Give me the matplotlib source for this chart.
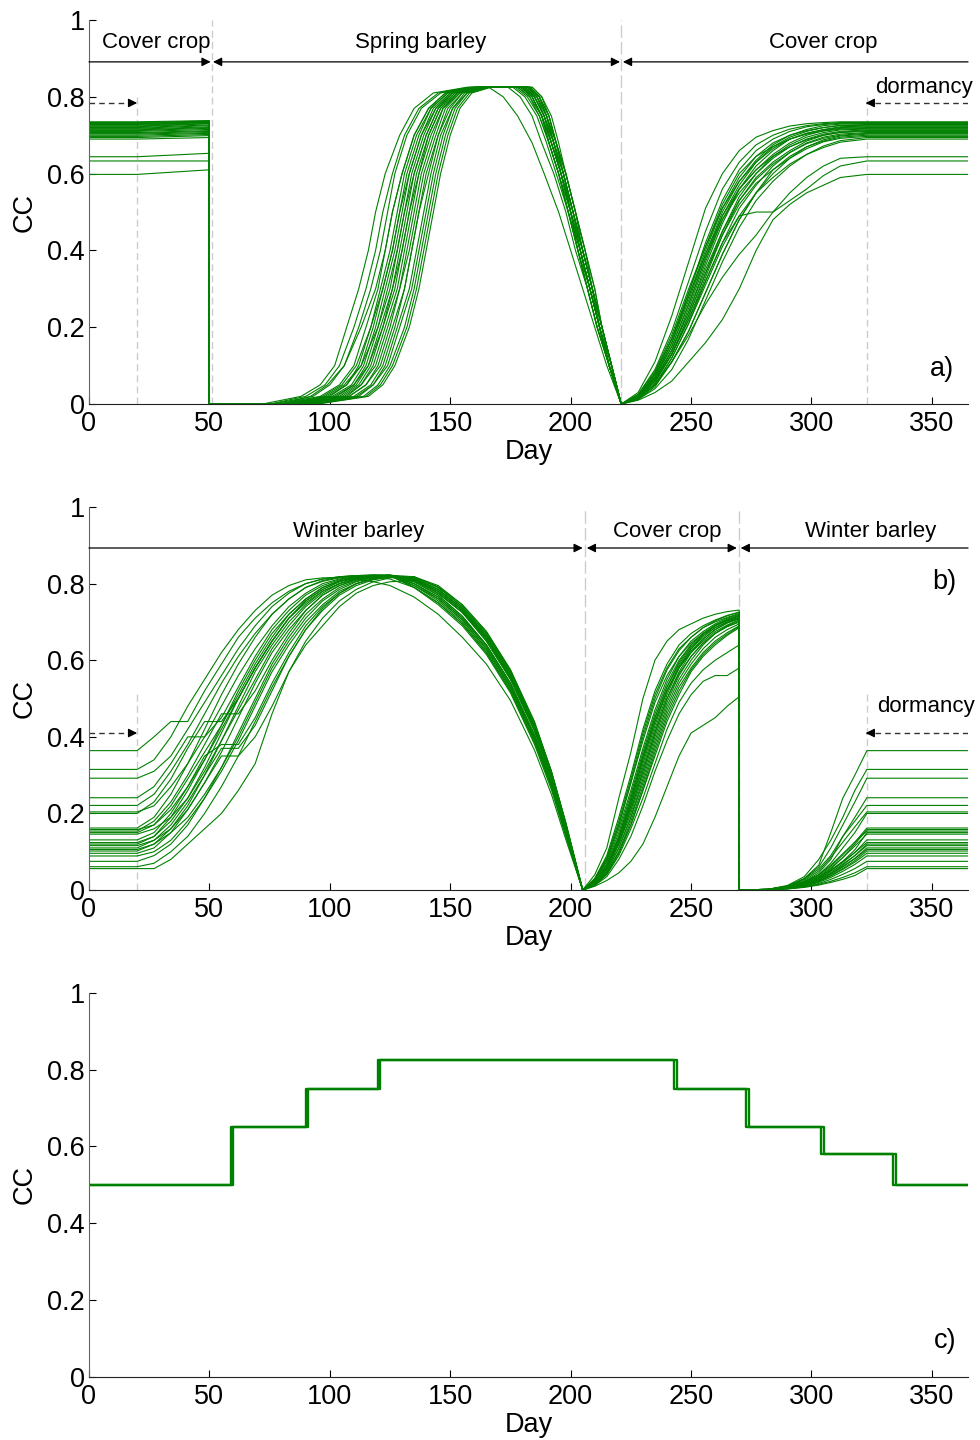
"""
Canopy cover (CC) over the year for three crop rotations:
  a) cover crop -> spring barley -> cover crop
  b) winter barley -> cover crop -> winter barley
  c) fixed monthly CC schedule
Each green line is one simulated year.
"""

import matplotlib
matplotlib.use("Agg")
import matplotlib.pyplot as plt

plt.rcParams["font.family"] = ["Liberation Sans", "DejaVu Sans"]

GREEN = "#008000"
GUIDE = "#cccccc"
FS = 19.5
FS_NOTE = 16

# ---------------------------------------------------------------------------
# a) cover crop / spring barley
# ---------------------------------------------------------------------------
A_SOW_DAY = 50
A_HARVEST_DAY = 221
A_DORMANCY_DAY = 323

# CC during winter dormancy (day 0-20 and day 323-365)
A_LEVEL = [0.735, 0.733, 0.731, 0.730, 0.728, 0.726, 0.724, 0.722, 0.720, 0.718,
           0.716, 0.714, 0.712, 0.710, 0.707, 0.705, 0.703, 0.700, 0.697, 0.694,
           0.690, 0.644, 0.633, 0.598]
# CC of the cover crop just before it is ploughed in (day 50)
A_SOW = [0.738, 0.737, 0.736, 0.735, 0.734, 0.733, 0.731, 0.730, 0.727, 0.725,
         0.722, 0.720, 0.718, 0.715, 0.712, 0.710, 0.707, 0.705, 0.702, 0.699,
         0.694, 0.653, 0.633, 0.610]

# spring barley: day on which each CC value is reached
A_GROW_CC = [0.0, 0.02, 0.05, 0.1, 0.2, 0.3, 0.4, 0.5, 0.6, 0.7, 0.77, 0.81, 0.825]
A_GROW_DAYS = [
    [72, 88, 96, 102, 107, 112, 116, 119, 123, 129, 135, 143, 157],
    [75, 90, 98, 104, 110, 115, 119, 122, 126, 131, 137, 145, 158],
    [76, 93, 100, 106, 112, 117, 121, 124, 127, 132, 138, 146, 159],
    [80, 92, 99, 106, 113, 119, 123, 126, 130, 135, 141, 148, 160],
    [78, 96, 104, 110, 115, 120, 123, 126, 130, 135, 141, 148, 160],
    [82, 97, 105, 111, 117, 121, 125, 128, 131, 136, 142, 149, 160],
    [79, 99, 107, 113, 118, 122, 126, 129, 132, 137, 142, 149, 161],
    [84, 100, 107, 112, 117, 122, 126, 129, 133, 138, 143, 150, 161],
    [81, 101, 109, 114, 119, 123, 127, 130, 133, 138, 144, 150, 161],
    [85, 98, 106, 113, 120, 125, 128, 131, 134, 139, 144, 151, 162],
    [83, 103, 110, 115, 120, 124, 128, 131, 135, 140, 145, 151, 162],
    [86, 104, 111, 116, 121, 126, 129, 132, 135, 140, 145, 152, 162],
    [84, 102, 110, 116, 122, 127, 130, 133, 136, 141, 146, 152, 162],
    [88, 105, 112, 117, 122, 126, 130, 133, 137, 141, 146, 153, 163],
    [86, 107, 113, 118, 123, 128, 131, 134, 137, 142, 147, 153, 163],
    [89, 106, 113, 119, 124, 129, 132, 135, 138, 143, 147, 154, 163],
    [87, 108, 115, 120, 125, 129, 133, 136, 139, 144, 148, 154, 164],
    [90, 108, 115, 121, 126, 131, 134, 137, 140, 145, 149, 155, 164],
    [88, 110, 117, 122, 127, 131, 134, 137, 141, 145, 150, 155, 164],
    [91, 111, 118, 123, 128, 133, 136, 139, 142, 146, 151, 156, 165],
    [92, 112, 118, 124, 129, 134, 137, 140, 143, 147, 151, 157, 165],
    [90, 114, 120, 125, 131, 135, 138, 141, 144, 148, 152, 157, 166],
    [94, 115, 121, 126, 132, 136, 139, 142, 145, 149, 153, 158, 166],
    [95, 116, 122, 127, 133, 137, 140, 143, 146, 150, 154, 159, 167],
]

# spring barley senescence: day on which each CC value is reached
A_DECL_CC = [0.825, 0.8, 0.75, 0.68, 0.6, 0.5, 0.4, 0.3, 0.2, 0.1, 0.0]
A_DECL_DAYS = [
    [166, 172, 178, 184, 189, 195, 200, 205, 210, 215, 221],
    [174, 179, 184, 188, 193, 198, 202, 207, 211, 216, 221],
    [176, 181, 186, 190, 194, 199, 203, 207, 211, 216, 221],
    [178, 183, 187, 191, 195, 199, 203, 208, 212, 216, 221],
    [179, 184, 188, 191, 195, 200, 204, 208, 212, 216, 221],
    [180, 185, 189, 192, 196, 200, 204, 208, 212, 216, 221],
    [180, 184, 188, 192, 196, 200, 204, 208, 212, 217, 221],
    [181, 185, 189, 193, 196, 200, 204, 208, 212, 216, 221],
    [181, 186, 190, 193, 197, 201, 205, 209, 212, 217, 221],
    [182, 186, 190, 193, 197, 201, 205, 209, 213, 217, 221],
    [182, 186, 189, 193, 196, 200, 204, 208, 212, 216, 221],
    [183, 187, 190, 194, 197, 201, 205, 209, 213, 217, 221],
    [183, 187, 191, 194, 198, 202, 205, 209, 213, 217, 221],
    [184, 188, 192, 195, 198, 202, 206, 210, 213, 217, 221],
    [178, 183, 188, 192, 196, 200, 205, 209, 212, 216, 221],
    [177, 182, 187, 191, 195, 199, 204, 208, 212, 216, 221],
    [180, 185, 189, 193, 197, 201, 205, 209, 213, 217, 221],
    [179, 184, 188, 192, 196, 201, 205, 209, 213, 217, 221],
    [181, 185, 189, 192, 196, 200, 203, 207, 211, 216, 221],
    [182, 187, 191, 194, 197, 201, 204, 208, 212, 216, 221],
    [183, 187, 190, 193, 197, 200, 204, 208, 212, 216, 221],
    [180, 184, 188, 191, 195, 199, 203, 207, 211, 216, 221],
    [184, 188, 191, 194, 198, 202, 206, 209, 213, 217, 221],
    [182, 186, 190, 194, 198, 202, 206, 210, 213, 217, 221],
]

# cover crop sown after harvest (CC = 0 on the harvest day)
A_COVER_DAYS = [228, 235, 242, 249, 256, 263, 270, 277, 284, 291, 298, 305, 312]
A_COVER_CC = [
    [0.030, 0.11, 0.23, 0.37, 0.51, 0.60, 0.66, 0.695, 0.712, 0.724, 0.730, 0.733, 0.735],
    [0.025, 0.09, 0.19, 0.32, 0.45, 0.56, 0.63, 0.675, 0.700, 0.716, 0.725, 0.730, 0.733],
    [0.020, 0.08, 0.17, 0.29, 0.42, 0.53, 0.61, 0.660, 0.690, 0.710, 0.722, 0.728, 0.731],
    [0.025, 0.085, 0.18, 0.30, 0.41, 0.51, 0.59, 0.645, 0.680, 0.700, 0.715, 0.725, 0.729],
    [0.020, 0.07, 0.15, 0.26, 0.38, 0.49, 0.57, 0.630, 0.670, 0.695, 0.710, 0.720, 0.726],
    [0.020, 0.075, 0.16, 0.27, 0.39, 0.50, 0.58, 0.635, 0.675, 0.700, 0.712, 0.720, 0.725],
    [0.015, 0.06, 0.14, 0.24, 0.36, 0.47, 0.56, 0.620, 0.660, 0.690, 0.705, 0.715, 0.722],
    [0.020, 0.07, 0.16, 0.28, 0.40, 0.51, 0.58, 0.630, 0.665, 0.690, 0.705, 0.714, 0.720],
    [0.018, 0.065, 0.14, 0.25, 0.37, 0.48, 0.56, 0.610, 0.650, 0.680, 0.700, 0.712, 0.718],
    [0.020, 0.08, 0.17, 0.29, 0.41, 0.52, 0.60, 0.645, 0.670, 0.690, 0.703, 0.711, 0.716],
    [0.015, 0.055, 0.13, 0.23, 0.34, 0.45, 0.54, 0.600, 0.645, 0.675, 0.695, 0.707, 0.714],
    [0.020, 0.07, 0.15, 0.26, 0.38, 0.48, 0.55, 0.600, 0.640, 0.670, 0.690, 0.703, 0.710],
    [0.018, 0.06, 0.13, 0.22, 0.33, 0.44, 0.53, 0.590, 0.630, 0.660, 0.685, 0.700, 0.708],
    [0.022, 0.08, 0.17, 0.28, 0.39, 0.49, 0.56, 0.610, 0.645, 0.670, 0.688, 0.700, 0.707],
    [0.015, 0.05, 0.12, 0.21, 0.32, 0.42, 0.51, 0.570, 0.620, 0.655, 0.680, 0.695, 0.703],
    [0.020, 0.065, 0.14, 0.24, 0.35, 0.45, 0.53, 0.585, 0.625, 0.655, 0.678, 0.692, 0.700],
    [0.012, 0.045, 0.11, 0.19, 0.29, 0.39, 0.48, 0.550, 0.600, 0.640, 0.670, 0.688, 0.698],
    [0.015, 0.05, 0.11, 0.19, 0.29, 0.39, 0.48, 0.550, 0.610, 0.645, 0.670, 0.685, 0.695],
    [0.018, 0.06, 0.13, 0.23, 0.34, 0.44, 0.52, 0.575, 0.610, 0.640, 0.665, 0.683, 0.692],
    [0.012, 0.04, 0.09, 0.17, 0.27, 0.37, 0.46, 0.530, 0.580, 0.620, 0.650, 0.672, 0.686],
    [0.015, 0.05, 0.12, 0.21, 0.31, 0.41, 0.49, 0.550, 0.590, 0.625, 0.650, 0.668, 0.682],
    [0.015, 0.05, 0.11, 0.18, 0.26, 0.33, 0.39, 0.440, 0.500, 0.550, 0.590, 0.620, 0.640],
    [0.020, 0.06, 0.13, 0.22, 0.32, 0.42, 0.49, 0.500, 0.500, 0.530, 0.560, 0.595, 0.620],
    [0.010, 0.03, 0.06, 0.11, 0.16, 0.22, 0.30, 0.400, 0.480, 0.520, 0.550, 0.570, 0.590],
]

# ---------------------------------------------------------------------------
# b) winter barley / cover crop
# ---------------------------------------------------------------------------
B_HARVEST_DAY = 205
B_SOW_DAY = 270
B_DORMANCY_DAY = 323

B_LEVEL = [0.364, 0.315, 0.292, 0.241, 0.221, 0.204, 0.200, 0.162, 0.158, 0.154,
           0.150, 0.146, 0.131, 0.124, 0.120, 0.116, 0.110, 0.106, 0.102, 0.096,
           0.089, 0.075, 0.061, 0.056]

# spring regrowth of winter barley after dormancy ends (day 20)
B_GROW_DAYS = [27, 34, 41, 48, 55, 62, 69, 76, 83, 90, 97, 104, 111, 118, 125]
B_GROW_CC = [
    [0.40, 0.44, 0.44, 0.52, 0.59, 0.66, 0.71, 0.75, 0.78, 0.80, 0.812, 0.818, 0.821, 0.822, 0.822],
    [0.34, 0.40, 0.48, 0.55, 0.62, 0.68, 0.73, 0.77, 0.795, 0.81, 0.815, 0.816, 0.812, 0.805, 0.795],
    [0.31, 0.35, 0.42, 0.49, 0.56, 0.63, 0.69, 0.74, 0.775, 0.80, 0.812, 0.818, 0.821, 0.822, 0.821],
    [0.27, 0.33, 0.40, 0.40, 0.45, 0.53, 0.61, 0.68, 0.73, 0.77, 0.795, 0.810, 0.818, 0.821, 0.822],
    [0.25, 0.31, 0.38, 0.46, 0.54, 0.61, 0.67, 0.72, 0.76, 0.79, 0.806, 0.815, 0.820, 0.822, 0.821],
    [0.22, 0.27, 0.33, 0.40, 0.48, 0.56, 0.63, 0.69, 0.74, 0.775, 0.80, 0.812, 0.819, 0.822, 0.822],
    [0.23, 0.29, 0.37, 0.44, 0.44, 0.50, 0.58, 0.65, 0.71, 0.755, 0.785, 0.805, 0.815, 0.820, 0.822],
    [0.19, 0.25, 0.33, 0.42, 0.51, 0.59, 0.66, 0.72, 0.76, 0.79, 0.808, 0.817, 0.821, 0.822, 0.820],
    [0.17, 0.21, 0.27, 0.34, 0.42, 0.50, 0.58, 0.65, 0.71, 0.75, 0.78, 0.800, 0.812, 0.818, 0.821],
    [0.18, 0.23, 0.30, 0.38, 0.46, 0.46, 0.52, 0.60, 0.67, 0.73, 0.77, 0.795, 0.810, 0.818, 0.820],
    [0.17, 0.22, 0.29, 0.36, 0.43, 0.51, 0.59, 0.66, 0.72, 0.76, 0.79, 0.807, 0.816, 0.820, 0.822],
    [0.16, 0.19, 0.24, 0.31, 0.39, 0.47, 0.55, 0.63, 0.69, 0.74, 0.775, 0.800, 0.812, 0.819, 0.822],
    [0.15, 0.20, 0.27, 0.35, 0.38, 0.38, 0.45, 0.54, 0.62, 0.69, 0.74, 0.775, 0.800, 0.812, 0.818],
    [0.14, 0.18, 0.24, 0.32, 0.41, 0.50, 0.58, 0.65, 0.71, 0.755, 0.785, 0.805, 0.815, 0.818, 0.812],
    [0.14, 0.19, 0.26, 0.34, 0.43, 0.52, 0.60, 0.67, 0.72, 0.76, 0.79, 0.807, 0.816, 0.820, 0.821],
    [0.13, 0.16, 0.21, 0.28, 0.36, 0.45, 0.54, 0.62, 0.68, 0.73, 0.77, 0.795, 0.810, 0.818, 0.821],
    [0.13, 0.17, 0.23, 0.30, 0.37, 0.37, 0.43, 0.52, 0.61, 0.68, 0.735, 0.775, 0.800, 0.812, 0.818],
    [0.12, 0.16, 0.22, 0.30, 0.39, 0.48, 0.57, 0.64, 0.70, 0.745, 0.78, 0.800, 0.813, 0.819, 0.821],
    [0.12, 0.15, 0.19, 0.25, 0.32, 0.40, 0.49, 0.58, 0.65, 0.71, 0.755, 0.785, 0.805, 0.815, 0.820],
    [0.11, 0.15, 0.21, 0.28, 0.35, 0.35, 0.40, 0.48, 0.57, 0.65, 0.71, 0.755, 0.785, 0.805, 0.815],
    [0.10, 0.13, 0.18, 0.24, 0.31, 0.39, 0.48, 0.57, 0.64, 0.70, 0.745, 0.780, 0.800, 0.813, 0.819],
    [0.09, 0.12, 0.17, 0.24, 0.32, 0.41, 0.50, 0.59, 0.66, 0.72, 0.76, 0.790, 0.807, 0.816, 0.820],
    [0.07, 0.10, 0.14, 0.20, 0.27, 0.35, 0.44, 0.53, 0.61, 0.68, 0.73, 0.770, 0.795, 0.810, 0.817],
    [0.056, 0.08, 0.12, 0.16, 0.20, 0.26, 0.33, 0.46, 0.57, 0.64, 0.69, 0.740, 0.775, 0.795, 0.805],
]

# senescence towards harvest (CC = 0 on the harvest day)
B_DECL_DAYS = [135, 145, 155, 165, 175, 185, 192, 198]
B_DECL_CC = [
    [0.812, 0.780, 0.730, 0.660, 0.560, 0.425, 0.300, 0.165],
    [0.765, 0.720, 0.660, 0.590, 0.495, 0.365, 0.250, 0.132],
    [0.815, 0.785, 0.735, 0.665, 0.565, 0.430, 0.305, 0.170],
    [0.800, 0.760, 0.705, 0.630, 0.530, 0.395, 0.275, 0.150],
    [0.790, 0.750, 0.695, 0.620, 0.520, 0.385, 0.270, 0.145],
    [0.818, 0.795, 0.745, 0.675, 0.575, 0.435, 0.310, 0.175],
    [0.810, 0.775, 0.725, 0.655, 0.555, 0.420, 0.295, 0.165],
    [0.795, 0.755, 0.700, 0.625, 0.525, 0.390, 0.270, 0.145],
    [0.808, 0.775, 0.725, 0.650, 0.550, 0.415, 0.290, 0.160],
    [0.805, 0.770, 0.715, 0.640, 0.540, 0.400, 0.280, 0.150],
    [0.812, 0.780, 0.730, 0.660, 0.560, 0.420, 0.300, 0.165],
    [0.800, 0.765, 0.710, 0.635, 0.535, 0.400, 0.280, 0.155],
    [0.816, 0.790, 0.740, 0.670, 0.570, 0.430, 0.305, 0.170],
    [0.790, 0.745, 0.690, 0.615, 0.515, 0.380, 0.262, 0.140],
    [0.805, 0.770, 0.715, 0.640, 0.540, 0.405, 0.285, 0.155],
    [0.810, 0.780, 0.730, 0.655, 0.555, 0.420, 0.295, 0.160],
    [0.817, 0.792, 0.745, 0.675, 0.575, 0.440, 0.310, 0.175],
    [0.790, 0.750, 0.695, 0.620, 0.520, 0.390, 0.270, 0.145],
    [0.812, 0.785, 0.735, 0.665, 0.565, 0.430, 0.300, 0.170],
    [0.818, 0.790, 0.740, 0.670, 0.570, 0.435, 0.310, 0.175],
    [0.800, 0.765, 0.710, 0.640, 0.540, 0.405, 0.285, 0.155],
    [0.795, 0.760, 0.705, 0.630, 0.530, 0.400, 0.280, 0.150],
    [0.812, 0.785, 0.735, 0.660, 0.560, 0.425, 0.300, 0.165],
    [0.808, 0.775, 0.725, 0.650, 0.550, 0.415, 0.295, 0.160],
]

# cover crop between barley harvest and winter barley sowing
B_COVER_DAYS = [210, 215, 220, 225, 230, 235, 240, 245, 250, 255, 260, 265, 270]
B_COVER_CC = [
    [0.040, 0.110, 0.240, 0.360, 0.500, 0.600, 0.650, 0.680, 0.695, 0.710, 0.720, 0.727, 0.731],
    [0.030, 0.090, 0.190, 0.300, 0.420, 0.520, 0.590, 0.640, 0.670, 0.690, 0.705, 0.717, 0.725],
    [0.025, 0.075, 0.160, 0.260, 0.370, 0.470, 0.550, 0.610, 0.650, 0.675, 0.695, 0.710, 0.720],
    [0.020, 0.060, 0.130, 0.220, 0.320, 0.420, 0.510, 0.580, 0.630, 0.665, 0.690, 0.705, 0.715],
    [0.020, 0.065, 0.140, 0.240, 0.350, 0.450, 0.530, 0.590, 0.635, 0.665, 0.685, 0.700, 0.710],
    [0.015, 0.050, 0.110, 0.190, 0.290, 0.390, 0.480, 0.550, 0.600, 0.640, 0.670, 0.690, 0.705],
    [0.025, 0.080, 0.170, 0.280, 0.390, 0.490, 0.560, 0.610, 0.645, 0.670, 0.690, 0.703, 0.712],
    [0.020, 0.055, 0.120, 0.200, 0.300, 0.400, 0.490, 0.560, 0.610, 0.645, 0.670, 0.688, 0.700],
    [0.030, 0.085, 0.180, 0.290, 0.410, 0.510, 0.580, 0.630, 0.660, 0.685, 0.700, 0.712, 0.722],
    [0.015, 0.045, 0.100, 0.170, 0.260, 0.350, 0.440, 0.510, 0.570, 0.610, 0.640, 0.665, 0.685],
    [0.020, 0.060, 0.130, 0.220, 0.330, 0.430, 0.520, 0.585, 0.630, 0.660, 0.685, 0.700, 0.712],
    [0.012, 0.040, 0.090, 0.160, 0.240, 0.330, 0.420, 0.490, 0.540, 0.575, 0.600, 0.620, 0.640],
    [0.025, 0.070, 0.150, 0.250, 0.360, 0.460, 0.540, 0.600, 0.640, 0.670, 0.690, 0.705, 0.716],
    [0.018, 0.055, 0.120, 0.210, 0.310, 0.410, 0.500, 0.570, 0.620, 0.655, 0.680, 0.697, 0.708],
    [0.010, 0.025, 0.045, 0.075, 0.120, 0.190, 0.270, 0.350, 0.410, 0.430, 0.450, 0.480, 0.505],
    [0.020, 0.060, 0.130, 0.230, 0.340, 0.440, 0.520, 0.580, 0.620, 0.650, 0.675, 0.692, 0.705],
    [0.015, 0.045, 0.100, 0.180, 0.270, 0.370, 0.460, 0.530, 0.580, 0.620, 0.650, 0.672, 0.690],
    [0.022, 0.065, 0.140, 0.240, 0.350, 0.450, 0.530, 0.595, 0.640, 0.670, 0.692, 0.707, 0.718],
    [0.012, 0.035, 0.080, 0.140, 0.220, 0.310, 0.390, 0.460, 0.510, 0.545, 0.560, 0.560, 0.580],
    [0.020, 0.060, 0.135, 0.230, 0.340, 0.440, 0.520, 0.580, 0.625, 0.655, 0.680, 0.698, 0.710],
    [0.028, 0.080, 0.170, 0.280, 0.400, 0.500, 0.575, 0.625, 0.660, 0.685, 0.703, 0.716, 0.726],
    [0.016, 0.050, 0.110, 0.190, 0.280, 0.380, 0.470, 0.540, 0.590, 0.630, 0.660, 0.680, 0.695],
    [0.020, 0.058, 0.125, 0.210, 0.310, 0.410, 0.500, 0.565, 0.610, 0.645, 0.670, 0.688, 0.700],
    [0.014, 0.042, 0.095, 0.170, 0.260, 0.360, 0.450, 0.520, 0.575, 0.615, 0.645, 0.668, 0.688],
]

# autumn emergence of the next winter barley (levels off at B_LEVEL on day 323)
B_AUT_DAYS = [282, 290, 297, 303, 308, 313, 318]
B_AUT_CC = [
    [0.002, 0.010, 0.030, 0.065, 0.150, 0.240, 0.300],
    [0.002, 0.012, 0.035, 0.080, 0.130, 0.190, 0.260],
    [0.002, 0.010, 0.030, 0.060, 0.110, 0.170, 0.230],
    [0.002, 0.010, 0.028, 0.055, 0.090, 0.140, 0.190],
    [0.001, 0.008, 0.022, 0.045, 0.080, 0.140, 0.180],
    [0.002, 0.009, 0.025, 0.050, 0.085, 0.125, 0.165],
    [0.001, 0.007, 0.020, 0.040, 0.070, 0.110, 0.150],
    [0.002, 0.008, 0.020, 0.038, 0.062, 0.092, 0.125],
    [0.001, 0.006, 0.016, 0.032, 0.055, 0.085, 0.120],
    [0.002, 0.009, 0.022, 0.040, 0.065, 0.095, 0.125],
    [0.001, 0.006, 0.015, 0.030, 0.050, 0.075, 0.105],
    [0.001, 0.007, 0.018, 0.035, 0.058, 0.085, 0.115],
    [0.001, 0.006, 0.015, 0.030, 0.050, 0.072, 0.098],
    [0.002, 0.008, 0.018, 0.034, 0.052, 0.075, 0.098],
    [0.001, 0.005, 0.013, 0.026, 0.043, 0.065, 0.090],
    [0.001, 0.006, 0.015, 0.028, 0.046, 0.068, 0.090],
    [0.001, 0.005, 0.012, 0.024, 0.040, 0.060, 0.083],
    [0.001, 0.006, 0.014, 0.027, 0.043, 0.062, 0.082],
    [0.001, 0.004, 0.011, 0.022, 0.037, 0.056, 0.077],
    [0.001, 0.005, 0.012, 0.023, 0.037, 0.054, 0.073],
    [0.001, 0.004, 0.010, 0.020, 0.033, 0.049, 0.067],
    [0.001, 0.004, 0.009, 0.017, 0.028, 0.041, 0.056],
    [0.000, 0.003, 0.008, 0.015, 0.023, 0.033, 0.045],
    [0.000, 0.003, 0.007, 0.013, 0.020, 0.028, 0.038],
]

# ---------------------------------------------------------------------------
# c) monthly CC schedule (two nearly identical series)
# ---------------------------------------------------------------------------
C_STEP_DAYS = [0, 59, 90, 120, 243, 273, 304, 334]
C_STEP_DAYS_ALT = [0, 60, 91, 121, 244, 274, 305, 335]
C_CC = [0.50, 0.65, 0.75, 0.825, 0.75, 0.65, 0.58, 0.50]


def style_axes(ax):
    ax.set_xlim(0, 365)
    ax.set_ylim(0, 1)
    ax.set_xticks(range(0, 351, 50))
    ax.set_yticks([0, 0.2, 0.4, 0.6, 0.8, 1])
    ax.set_yticklabels(["0", "0.2", "0.4", "0.6", "0.8", "1"])
    for side in ("top", "right"):
        ax.spines[side].set_visible(False)
    ax.spines["left"].set_color("#666666")
    ax.spines["bottom"].set_color("#222222")
    ax.tick_params(direction="in", length=5, width=0.8, labelsize=FS, colors="black")
    ax.tick_params(axis="x", pad=5)
    ax.tick_params(axis="y", pad=3)
    ax.set_xlabel("Day", fontsize=FS)
    ax.set_ylabel("CC", fontsize=FS)
    ax.xaxis.set_label_coords(0.5, -0.092)
    ax.yaxis.set_label_coords(-0.058, 0.5)


def guide(ax, day, top, long_dash=False):
    dash = (0, (9, 3)) if long_dash else (0, (5, 3))
    ax.plot([day, day], [0, top], color=GUIDE, ls=dash, lw=1.0, zorder=1)


def span(ax, x_tail, x_head, y, style):
    ax.annotate("", xy=(x_head, y), xytext=(x_tail, y),
                arrowprops=dict(arrowstyle=style, color="black", lw=0.9,
                                shrinkA=0, shrinkB=0, mutation_scale=13))


def dormancy_arrow(ax, x_tail, x_head, y):
    ax.plot([x_tail, x_head], [y, y], color="#333333", ls=(0, (4, 3)), lw=1.0)
    step = 2 if x_head > x_tail else -2
    ax.annotate("", xy=(x_head, y), xytext=(x_head - step, y),
                arrowprops=dict(arrowstyle="-|>", color="black", lw=0.9,
                                shrinkA=0, shrinkB=0, mutation_scale=13))


fig = plt.figure(figsize=(9.8, 14.4), dpi=100)
ax_a = fig.add_axes([0.0908, 0.7194, 0.897, 0.2667])
ax_b = fig.add_axes([0.0908, 0.3819, 0.897, 0.2660])
ax_c = fig.add_axes([0.0908, 0.0438, 0.897, 0.2667])

# --- a) ---
guide(ax_a, 20, 0.80)
guide(ax_a, 51, 1.0)
guide(ax_a, A_HARVEST_DAY, 1.0, long_dash=True)
guide(ax_a, A_DORMANCY_DAY, 0.81)

for i in range(len(A_LEVEL)):
    x = [0, 20, A_SOW_DAY, A_SOW_DAY]
    y = [A_LEVEL[i], A_LEVEL[i], A_SOW[i], 0.0]
    x += A_GROW_DAYS[i] + A_DECL_DAYS[i] + A_COVER_DAYS + [A_DORMANCY_DAY, 365]
    y += A_GROW_CC + A_DECL_CC + A_COVER_CC[i] + [A_LEVEL[i], A_LEVEL[i]]
    ax_a.plot(x, y, color=GREEN, lw=0.8, zorder=2)

span(ax_a, 0, 50.5, 0.891, "-|>")
span(ax_a, 51.5, 220.5, 0.891, "<|-|>")
span(ax_a, 365, 221.7, 0.891, "-|>")
ax_a.text(27.8, 0.942, "Cover crop", fontsize=FS_NOTE, ha="center", va="center")
ax_a.text(137.8, 0.942, "Spring barley", fontsize=FS_NOTE, ha="center", va="center")
ax_a.text(305, 0.942, "Cover crop", fontsize=FS_NOTE, ha="center", va="center")
dormancy_arrow(ax_a, 0, 20, 0.784)
dormancy_arrow(ax_a, 365, 322.5, 0.784)
ax_a.text(346.6, 0.824, "dormancy", fontsize=FS_NOTE, ha="center", va="center")
ax_a.text(354, 0.09, "a)", fontsize=FS, ha="center", va="center")
style_axes(ax_a)

# --- b) ---
guide(ax_b, 20, 0.515)
guide(ax_b, 206, 1.0, long_dash=True)
guide(ax_b, B_SOW_DAY, 1.0, long_dash=True)
guide(ax_b, B_DORMANCY_DAY, 0.52)

for i in range(len(B_LEVEL)):
    x = [0, 20] + B_GROW_DAYS + B_DECL_DAYS + [B_HARVEST_DAY] + B_COVER_DAYS
    y = [B_LEVEL[i], B_LEVEL[i]] + B_GROW_CC[i] + B_DECL_CC[i] + [0.0] + B_COVER_CC[i]
    x += [B_SOW_DAY] + B_AUT_DAYS + [B_DORMANCY_DAY, 365]
    y += [0.0] + B_AUT_CC[i] + [B_LEVEL[i], B_LEVEL[i]]
    ax_b.plot(x, y, color=GREEN, lw=0.8, zorder=2)

span(ax_b, 0, 205, 0.893, "-|>")
span(ax_b, 206.7, 269, 0.893, "<|-|>")
span(ax_b, 365, 270.6, 0.893, "-|>")
ax_b.text(112, 0.937, "Winter barley", fontsize=FS_NOTE, ha="center", va="center")
ax_b.text(240.3, 0.937, "Cover crop", fontsize=FS_NOTE, ha="center", va="center")
ax_b.text(324.6, 0.937, "Winter barley", fontsize=FS_NOTE, ha="center", va="center")
dormancy_arrow(ax_b, 0, 20, 0.41)
dormancy_arrow(ax_b, 365, 322.5, 0.41)
ax_b.text(347.4, 0.478, "dormancy", fontsize=FS_NOTE, ha="center", va="center")
ax_b.text(355.3, 0.804, "b)", fontsize=FS, ha="center", va="center")
style_axes(ax_b)

# --- c) ---
for days in (C_STEP_DAYS, C_STEP_DAYS_ALT):
    ax_c.plot(days + [365], C_CC + [C_CC[-1]], color=GREEN, lw=1.7,
              drawstyle="steps-post", zorder=2)
ax_c.text(355.3, 0.094, "c)", fontsize=FS, ha="center", va="center")
style_axes(ax_c)

fig.savefig("out.png", dpi=100)
